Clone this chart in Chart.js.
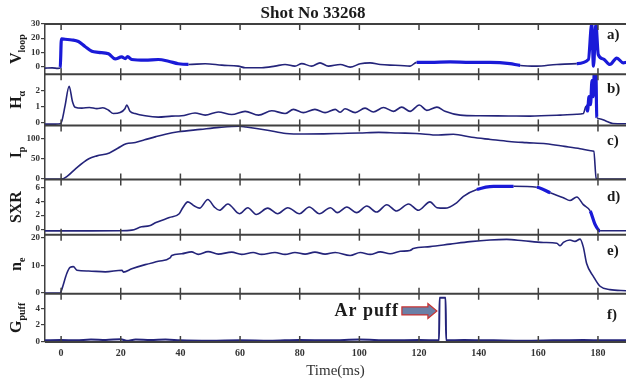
<!DOCTYPE html>
<html>
<head>
<meta charset="utf-8">
<script src="https://cdn.jsdelivr.net/npm/chart.js@4.4.1/dist/chart.umd.min.js"></script>
<style>
  html, body { margin: 0; padding: 0; background: #fff; }
  canvas { display: block; }
</style>
</head>
<body>
<canvas id="shot" width="626" height="383"></canvas>
<script>
// time axis (ms)
const timeTicks = [0, 20, 40, 60, 80, 100, 120, 140, 160, 180];

// a) loop voltage
const vloopT = [-5.4, -3, -1, -0.3, 0.1, 1.3, 3.6, 5.8, 8.0, 10.3,
    12.5, 15.9, 18.1, 20.3, 21.5, 22.3, 23.7, 28.2, 32.6, 36,
    39.3, 42.7, 48.3, 53.9, 59.4, 61.7, 67.3, 71.7, 75.1, 78.4,
    80.7, 84, 86.8, 89.6, 93.6, 96.9, 100.3, 103.6, 107, 110.3,
    113.7, 117, 119.2, 123.7, 130.4, 137.1, 143.8, 150.5, 153.9, 159.5,
    166.2, 172.9, 176.8, 177.9, 178.5, 179.3, 180.1, 181.8, 184, 186.3,
    188.5, 189.5];
const vloopV = [-1.2, -1.0, -1.4, -1.0, 19.5, 19.2, 18.7, 17.6, 14.1, 10.7,
    10.0, 9.0, 5.3, 6.7, 5.5, 7.0, 4.9, 4.4, 4.9, 3.7,
    1.9, 1.4, 1.9, 0.9, 0.2, -0.9, -0.9, 0.2, 1.4, 0.2,
    2.0, 0.2, 2.5, 0.2, 1.4, -0.5, 1.9, 2.5, 1.4, 0.9,
    0.7, 0.2, 2.9, 2.9, 3.2, 2.9, 2.9, 2.0, 0.7, 0.2,
    1.4, 2.0, 4.9, 30, 0.2, 30, 8.3, 5.3, 1.4, 5.9,
    2.5, 3.0];

// b) H-alpha
const halphaT = [-5.4, -2, -0.2, 0.3, 1.3, 2.7, 3.8, 4.7, 7, 9.5,
    12, 14, 15.9, 17.5, 19.8, 21.4, 22, 23.1, 24.8, 28.2,
    32.6, 37.1, 40.4, 44.9, 48.3, 52.7, 57.2, 61.7, 66.2, 70.6,
    75.1, 77.9, 81.2, 85.1, 88.5, 91.9, 93.6, 95.2, 98.6, 101.9,
    104.7, 108.1, 111.4, 114.2, 117, 120.1, 122.6, 126, 128.7, 133.8,
    140.5, 150, 157.2, 167.3, 172.9, 175.1, 176, 176.5, 177, 177.5,
    178, 178.4, 178.8, 179.3, 179.6, 180.5, 183, 185, 189.5];
const halphaV = [-0.12, -0.12, -0.1, 0.1, 1.0, 2.25, 1.3, 0.94, 0.88, 0.92,
    0.85, 0.9, 0.75, 0.54, 0.6, 0.84, 1.08, 0.68, 0.54, 0.4,
    0.32, 0.38, 0.4, 0.58, 0.44, 0.64, 0.48, 0.68, 0.44, 0.72,
    0.54, 0.8, 0.6, 0.8, 0.6, 0.8, 0.62, 0.84, 0.6, 0.88,
    0.64, 0.92, 0.68, 0.94, 0.68, 1.08, 0.74, 0.94, 0.68, 0.44,
    0.4, 0.39, 0.38, 0.44, 0.5, 0.54, 1.0, 0.7, 1.6, 1.1,
    2.6, 1.6, 3.2, 3.2, 0.3, 0.22, 0.05, -0.08, -0.1];

// c) plasma current
const ipT = [-5.4, 0.3, 2, 5, 9.3, 12, 16.2, 19, 21.8, 24.9,
    28, 31.8, 35, 39.3, 46.7, 53, 59.8, 62, 69.2, 75.4,
    81.6, 88, 94.1, 100, 106.5, 113, 119, 126.5, 131.5, 137.7,
    144, 150.2, 156, 162.6, 168.8, 174, 177.6, 178.6, 179.4, 180,
    189.5];
const ipV = [-1.5, -1.5, 5, 25, 48.8, 56, 63.4, 75, 86, 89.4,
    96, 104, 110, 116, 122, 127, 130, 128, 120, 112,
    110.6, 111, 112, 113, 114.6, 113, 112, 108, 109.8, 102.4,
    97, 91.9, 89, 86.2, 79.7, 74, 69, 67.5, 0, -1.5,
    -1.5];

// d) soft X-ray
const sxrT = [-5.4, 10, 19.6, 23.7, 27, 29.6, 31.8, 36.3, 39.6, 40.8,
    42.5, 44.7, 46.4, 49.2, 51.4, 53.1, 55.9, 59.8, 62.6, 65.4,
    69.3, 72.6, 76, 79.9, 83.2, 86.6, 90.3, 92.6, 95.8, 99.1,
    102.5, 105.8, 109.2, 112.5, 116.5, 119.8, 123.7, 126, 128.7, 132.6,
    134.9, 139.4, 145, 151.7, 159.5, 164, 168.4, 170.6, 172.9, 175.1,
    177.4, 179, 180.7, 189.5];
const sxrV = [-0.25, -0.25, -0.24, -0.15, 0.33, 0.47, 0.94, 1.65, 2.2, 3.07,
    3.9, 3.3, 3.0, 4.25, 3.16, 2.7, 3.6, 2.2, 3.07, 2.1,
    3.0, 2.2, 3.07, 2.2, 3.16, 2.2, 3.07, 2.36, 3.16, 2.36,
    3.3, 2.45, 3.5, 2.6, 3.6, 2.7, 3.9, 3.07, 3.0, 3.77,
    4.7, 5.66, 6.13, 6.13, 6.0, 5.2, 4.5, 4.1, 4.6, 3.5,
    2.6, 0.7, -0.24, -0.24];

// e) electron density
const neT = [-5.4, -0.3, 0.2, 1.9, 3, 4.1, 5.3, 9.2, 14.8, 20.4,
    20.9, 23.7, 28.2, 32.6, 36.5, 37.1, 40.4, 43.7, 46, 49.3,
    52.7, 57.2, 60.5, 64.4, 67.2, 71.7, 75.1, 78.4, 81.8, 85.1,
    88.5, 91.9, 96.9, 100.3, 103.6, 107, 110.3, 113.7, 117, 118.1,
    123.7, 130.4, 137.1, 143.8, 149.4, 155, 161.7, 166.2, 167.3, 168.4,
    170.6, 172.3, 174, 175.1, 176.2, 178.5, 180.7, 184, 189.5];
const neV = [0, 0, 1.2, 7, 9.2, 9.5, 8.2, 7.9, 7.6, 8.2,
    7.5, 8.7, 10.2, 11.4, 12.6, 13.5, 14.1, 14.8, 13.9, 14.9,
    14, 14.7, 13.9, 14.6, 13.9, 14.6, 13.9, 14.6, 14, 14.7,
    14, 14.6, 13.5, 14.6, 13.9, 14.8, 14.1, 15, 15.3, 16,
    16.7, 17.6, 18.5, 19.1, 19.3, 18.8, 18.2, 17.9, 17, 18.2,
    19.1, 18.6, 19.4, 16.5, 10.6, 5.9, 2.4, 1.2, 0.8];

// f) gas puff
const gpuffT = [-5.4, 0, 5, 10, 15, 20, 22, 25, 30, 35,
    40, 50, 60, 70, 80, 90, 100, 110, 120, 126.7,
    126.9, 128.9, 129.1, 135, 145, 155, 165, 175, 182, 189.5];
const gpuffV = [0.1, 0.15, 0.1, 0.2, 0.15, 0.25, 0.05, 0.2, 0.15, 0.2,
    0.1, 0.05, 0.1, 0.05, 0.15, 0.1, 0.2, 0.1, 0.15, 0.1,
    5.3, 5.3, 0.1, 0.15, 0.1, 0.05, 0.1, 0.15, 0.1, 0.1];

const SERIF = "'Liberation Serif', 'Times New Roman', serif";
const DARK = '#24247a';
const NOISY = '#1a1ad8';
const FRAME = '#404040';

// listed top to bottom
const panels = [
    { id: 'ya', main: 'V', sub: 'loop', tag: 'a)', t: vloopT, v: vloopV, min: -5.5, max: 30, ticks: [0, 10, 20, 30], weight: 51, tagAt: 0.22, noisy: [[-0.5, 40], [118.5, 151], [172, 190]] },
    { id: 'yb', main: 'H', sub: 'α', tag: 'b)', t: halphaT, v: halphaV, min: -0.2, max: 3, ticks: [0, 1, 2], weight: 52, tagAt: 0.29, noisy: [[175.5, 179.3]] },
    { id: 'yc', main: 'I', sub: 'p', tag: 'c)', t: ipT, v: ipV, min: -3, max: 132, ticks: [0, 50, 100], weight: 55, tagAt: 0.29, noisy: [] },
    { id: 'yd', main: 'SXR', sub: '', tag: 'd)', t: sxrT, v: sxrV, min: -0.8, max: 7.1, ticks: [0, 2, 4, 6], weight: 56, tagAt: 0.32, noisy: [[136, 147], [157, 162], [176, 180]] },
    { id: 'ye', main: 'n', sub: 'e', tag: 'e)', t: neT, v: neV, min: -0.3, max: 21, ticks: [0, 10, 20], weight: 60, tagAt: 0.28, noisy: [] },
    { id: 'yf', main: 'G', sub: 'puff', tag: 'f)', t: gpuffT, v: gpuffV, min: -0.1, max: 5.8, ticks: [0, 2, 4], weight: 49, tagAt: 0.45, noisy: [] }
];

function inRanges(x, ranges) {
    return ranges.some(r => x >= r[0] && x <= r[1]);
}

const datasets = panels.map(p => ({
    data: p.t.map((t, i) => ({ x: t, y: p.v[i] })),
    yAxisID: p.id,
    borderColor: DARK,
    borderWidth: p.id === 'yf' ? 2 : 1.6,
    pointRadius: 0,
    cubicInterpolationMode: 'monotone',
    segment: {
        borderColor: c => inRanges(c.p0.parsed.x, p.noisy) ? NOISY : undefined,
        borderWidth: c => inRanges(c.p0.parsed.x, p.noisy) ? 3.2 : undefined
    }
}));

const scales = {
    x: {
        type: 'linear',
        min: -5.4,
        max: 189.4,
        afterBuildTicks: s => { s.ticks = timeTicks.map(v => ({ value: v })); },
        grid: { display: false, drawTicks: false },
        border: { display: false },
        ticks: { padding: 5, autoSkip: false, maxRotation: 0, color: '#333', font: { family: SERIF, size: 10, weight: 'bold' } },
        title: { display: true, text: 'Time(ms)', color: '#333', padding: 0, font: { family: SERIF, size: 15, lineHeight: 1 } }
    }
};

// stacked left axes: the last one defined goes on top
panels.slice().reverse().forEach(p => {
    scales[p.id] = {
        type: 'linear',
        position: 'left',
        stack: 'shot',
        stackWeight: p.weight,
        min: p.min,
        max: p.max,
        afterBuildTicks: s => { s.ticks = p.ticks.map(v => ({ value: v })); },
        afterFit: s => { s.width = 45; },
        grid: { drawOnChartArea: false, tickLength: 4, color: FRAME, lineWidth: 1.2 },
        border: { display: true, color: FRAME, width: 1.5 },
        ticks: { padding: 1, autoSkip: false, color: '#333', font: { family: SERIF, size: 9, weight: 'bold' } }
    };
});

const panelFrame = {
    id: 'panelFrame',
    afterDatasetsDraw(chart) {
        const { ctx, chartArea: area, scales: sc } = chart;
        const xs = sc.x;
        ctx.save();
        ctx.strokeStyle = FRAME;

        // horizontal panel borders
        const edges = [];
        panels.forEach(p => {
            const s = sc[p.id];
            [s.top, s.bottom].forEach(y => {
                if (!edges.some(e => Math.abs(e - y) < 1)) edges.push(y);
            });
        });
        ctx.lineWidth = 2;
        edges.forEach(y => {
            ctx.beginPath();
            ctx.moveTo(area.left, y);
            ctx.lineTo(area.right, y);
            ctx.stroke();
        });

        // time ticks crossing each border
        ctx.lineWidth = 1.5;
        edges.forEach(y => {
            const up = y > area.top + 1 ? 6 : 0;
            const down = y < area.bottom - 1 ? 6 : 0;
            timeTicks.forEach(v => {
                const px = xs.getPixelForValue(v);
                ctx.beginPath();
                ctx.moveTo(px, y - up);
                ctx.lineTo(px, y + down);
                ctx.stroke();
            });
        });

        // panel tags a) ... f)
        ctx.fillStyle = '#1a1a1a';
        ctx.font = `bold 15px ${SERIF}`;
        ctx.textAlign = 'left';
        ctx.textBaseline = 'middle';
        panels.forEach(p => {
            const s = sc[p.id];
            const y = s.top + p.tagAt * (s.bottom - s.top);
            ctx.fillText(p.tag, area.right - 19, y);
        });

        // rotated axis titles with subscripts
        panels.forEach(p => {
            const s = sc[p.id];
            const mid = (s.top + s.bottom) / 2;
            ctx.save();
            ctx.translate(21, mid);
            ctx.rotate(-Math.PI / 2);
            ctx.textAlign = 'left';
            ctx.textBaseline = 'alphabetic';
            ctx.font = `bold 16px ${SERIF}`;
            const wMain = ctx.measureText(p.main).width;
            ctx.font = `bold 10px ${SERIF}`;
            const wSub = ctx.measureText(p.sub).width;
            const start = -(wMain + wSub) / 2;
            ctx.font = `bold 16px ${SERIF}`;
            ctx.fillText(p.main, start, 0);
            ctx.font = `bold 10px ${SERIF}`;
            ctx.fillText(p.sub, start + wMain, 4);
            ctx.restore();
        });

        // Ar puff annotation, tip anchored at (126 ms, 3.7) in panel f
        const tipX = xs.getPixelForValue(126);
        const midY = sc.yf.getPixelForValue(3.7);
        const headX = tipX - 9;
        const tailX = tipX - 35;
        ctx.beginPath();
        ctx.moveTo(tailX, midY - 4);
        ctx.lineTo(headX, midY - 4);
        ctx.lineTo(headX, midY - 7.5);
        ctx.lineTo(tipX, midY);
        ctx.lineTo(headX, midY + 7.5);
        ctx.lineTo(headX, midY + 4);
        ctx.lineTo(tailX, midY + 4);
        ctx.closePath();
        ctx.fillStyle = '#6b7fa6';
        ctx.fill();
        ctx.strokeStyle = '#c83232';
        ctx.lineWidth = 1.2;
        ctx.stroke();

        ctx.fillStyle = '#1a1a1a';
        ctx.font = `bold 18px ${SERIF}`;
        ctx.letterSpacing = '1px';
        ctx.textAlign = 'right';
        ctx.textBaseline = 'middle';
        ctx.fillText('Ar puff', tailX - 3, midY);
        ctx.restore();
    }
};

new Chart(document.getElementById('shot'), {
    type: 'line',
    data: { datasets },
    options: {
        responsive: false,
        animation: false,
        layout: { padding: { left: 0, right: 0, top: 0, bottom: 4 } },
        scales,
        plugins: {
            legend: { display: false },
            tooltip: { enabled: false },
            title: {
                display: true,
                text: 'Shot No 33268',
                color: '#1a1a1a',
                padding: { top: 5, bottom: 2 },
                font: { family: SERIF, size: 17, weight: 'bold', lineHeight: 1 }
            }
        }
    },
    plugins: [panelFrame]
});
</script>
</body>
</html>
